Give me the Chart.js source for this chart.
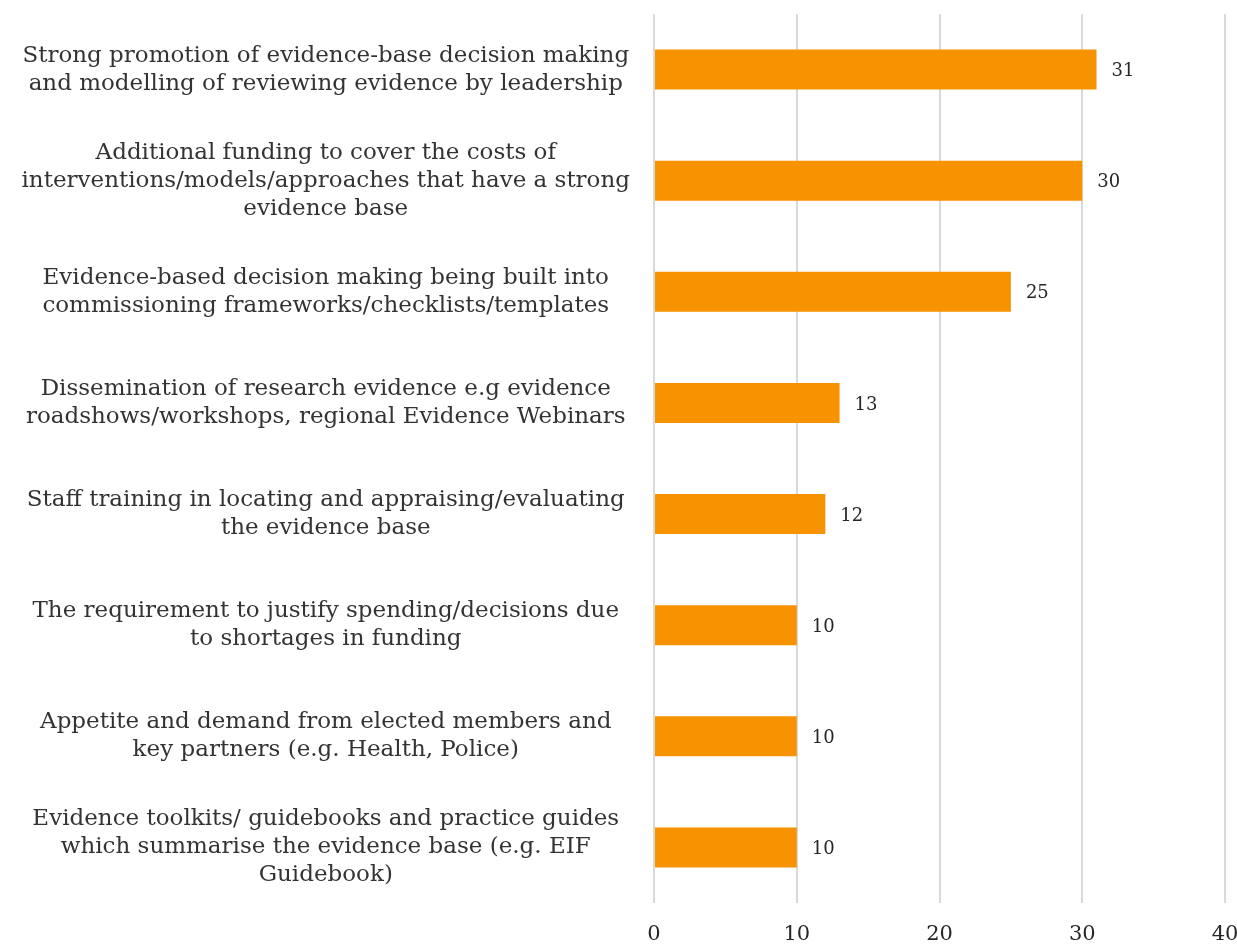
<!DOCTYPE html>
<html>
<head>
<meta charset="utf-8">
<script src="https://cdn.jsdelivr.net/npm/chart.js@4.4.1/dist/chart.umd.min.js"></script>
<style>
    html, body { margin: 0; padding: 0; background: #ffffff; }
    #wrap { width: 1237px; height: 944px; }
</style>
</head>
<body>
<div id="wrap"><canvas id="DriversChart"></canvas></div>
<script>
// categories (multi-line labels) and counts
const drivers = [
    ["Strong promotion of evidence-base decision making", "and modelling of reviewing evidence by leadership"],
    ["Additional funding to cover the costs of", "interventions/models/approaches that have a strong", "evidence base"],
    ["Evidence-based decision making being built into", "commissioning frameworks/checklists/templates"],
    ["Dissemination of research evidence e.g evidence", "roadshows/workshops, regional Evidence Webinars"],
    ["Staff training in locating and appraising/evaluating", "the evidence base"],
    ["The requirement to justify spending/decisions due", "to shortages in funding"],
    ["Appetite and demand from elected members and", "key partners (e.g. Health, Police)"],
    ["Evidence toolkits/ guidebooks and practice guides", "which summarise the evidence base (e.g. EIF", "Guidebook)"]
];
const counts = [31, 30, 25, 13, 12, 10, 10, 10];
const xTicks = [0, 10, 20, 30, 40];

const serif = "'DejaVu Serif', 'Liberation Serif', serif";

// writes the count just past the end of each bar
const valueLabels = {
    id: 'valueLabels',
    afterDatasetsDraw(chart) {
        const ctx = chart.ctx;
        const meta = chart.getDatasetMeta(0);
        ctx.save();
        ctx.font = "18px " + serif;
        ctx.fillStyle = "#262626";
        ctx.textAlign = "left";
        ctx.textBaseline = "middle";
        meta.data.forEach(function (bar, i) {
            ctx.fillText(String(counts[i]), bar.x + 15, bar.y + 2);
        });
        ctx.restore();
    }
};

const config = {
    type: 'bar',
    data: {
        labels: drivers,
        datasets: [{
            data: counts,
            backgroundColor: '#f79200',
            borderWidth: 0,
            barPercentage: 0.72,
            categoryPercentage: 0.5
        }]
    },
    options: {
        indexAxis: 'y',
        responsive: true,
        maintainAspectRatio: false,
        animation: false,
        layout: {
            padding: { top: 14, right: 12, left: 0, bottom: 0 }
        },
        plugins: {
            legend: { display: false },
            tooltip: { enabled: false }
        },
        scales: {
            x: {
                min: 0,
                max: 40,
                afterBuildTicks: function (scale) {
                    scale.ticks = xTicks.map(function (v) { return { value: v }; });
                },
                afterFit: function (scale) {
                    scale.height = 41;
                    scale.paddingLeft = 0;
                    scale.paddingRight = 0;
                },
                grid: {
                    color: '#d9d9d9',
                    lineWidth: 2,
                    drawTicks: false
                },
                border: { display: false },
                ticks: {
                    padding: 19,
                    color: '#262626',
                    font: { family: serif, size: 21 }
                }
            },
            y: {
                grid: { display: false, drawTicks: false },
                border: { display: false },
                afterFit: function (scale) {
                    // fixed axis width, and no extra room for tall end labels
                    scale.width = 654;
                    scale.paddingTop = 0;
                    scale.paddingBottom = 0;
                },
                ticks: {
                    crossAlign: 'center',
                    padding: 24,
                    color: '#333333',
                    font: { family: serif, size: 23, lineHeight: 1.22 }
                }
            }
        }
    },
    plugins: [valueLabels]
};

const DriversChart = new Chart(document.getElementById('DriversChart'), config);
</script>
</body>
</html>
